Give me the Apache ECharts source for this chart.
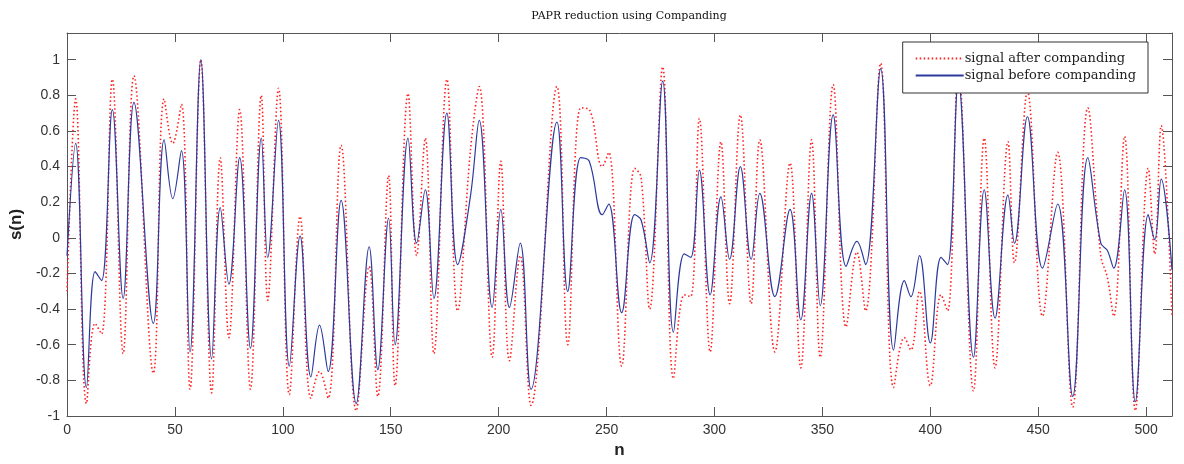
<!DOCTYPE html>
<html>
<head>
<meta charset="utf-8">
<script src="https://cdn.jsdelivr.net/npm/echarts@6/dist/echarts.min.js"></script>
<style>
  html, body { margin: 0; padding: 0; background: #fff; }
  #chart { width: 1184px; height: 464px; }
</style>
</head>
<body>
<div id="chart"></div>
<script>
// sample index n (turning points)
const sampleN = [
  0, 4, 9, 13, 16, 21, 26, 31, 40, 45, 49, 53, 57, 62, 67, 71, 75, 80, 85, 90,
  93, 98, 103, 108, 113, 117, 121, 127, 134, 140, 144, 149, 152, 158, 162, 166, 170, 176, 181, 187,
  191, 197, 201, 205, 210, 215, 227, 232, 238, 242, 248, 251, 257, 263, 266, 270, 276, 281, 286, 289,
  293, 298, 303, 307, 312, 317, 321, 328, 335, 340, 345, 349, 355, 361, 366, 370, 377, 383, 388, 391,
  395, 400, 405, 408, 413, 420, 425, 430, 436, 439, 445, 452, 459, 466, 473, 479, 482, 485, 490, 495,
  501, 504, 507, 512
];

// signal before companding
const beforeVals = [
  -0.10, 0.53, -0.84, -0.19, -0.24, 0.72, -0.34, 0.76, -0.48, 0.55, 0.22, 0.49, -0.64, 1.00, -0.68, 0.17, -0.26, 0.45, -0.62, 0.56,
  -0.11, 0.66, -0.72, 0.01, -0.78, -0.49, -0.75, 0.21, -0.93, -0.05, -0.74, 0.11, -0.60, 0.56, -0.03, 0.27, -0.34, 0.70, -0.15, 0.24,
  0.66, -0.39, 0.16, -0.39, -0.03, -0.85, 0.65, -0.30, 0.45, 0.43, 0.13, 0.19, -0.42, 0.13, 0.10, -0.14, 0.88, -0.53, -0.09, -0.11,
  0.38, -0.32, 0.23, -0.12, 0.40, -0.12, 0.25, -0.33, 0.16, -0.46, 0.25, -0.38, 0.69, -0.16, -0.02, -0.15, 0.95, -0.63, -0.24, -0.33,
  -0.10, -0.59, -0.11, -0.15, 0.88, -0.67, 0.27, -0.45, 0.24, -0.03, 0.68, -0.17, 0.19, -0.89, 0.45, -0.03, -0.07, -0.17, 0.27, -0.92,
  0.13, -0.01, 0.33, -0.18
];

// signal after companding
const afterVals = [
  -0.30, 0.78, -0.93, -0.48, -0.54, 0.89, -0.65, 0.91, -0.76, 0.78, 0.53, 0.75, -0.85, 1.00, -0.87, 0.45, -0.56, 0.72, -0.85, 0.80,
  -0.35, 0.84, -0.88, 0.12, -0.90, -0.75, -0.90, 0.52, -0.97, -0.16, -0.89, 0.35, -0.83, 0.81, -0.10, 0.56, -0.65, 0.89, -0.41, 0.50,
  0.85, -0.67, 0.43, -0.69, -0.10, -0.94, 0.85, -0.60, 0.73, 0.72, 0.40, 0.48, -0.72, 0.39, 0.34, -0.40, 0.96, -0.79, -0.32, -0.33,
  0.67, -0.64, 0.54, -0.37, 0.69, -0.37, 0.55, -0.64, 0.42, -0.73, 0.55, -0.67, 0.86, -0.50, -0.08, -0.41, 0.98, -0.84, -0.56, -0.63,
  -0.30, -0.83, -0.32, -0.41, 0.95, -0.86, 0.56, -0.73, 0.54, -0.14, 0.82, -0.44, 0.48, -0.95, 0.73, -0.10, -0.22, -0.44, 0.57, -0.97,
  0.39, -0.09, 0.63, -0.44
];

const titleText = 'PAPR reduction using Companding';
const seriesNames = ['signal after companding', 'signal before companding'];

function pairs(xs, ys) {
  return xs.map((x, i) => [x, ys[i]]);
}

const boxColor = '#555';
const tickFont = { fontFamily: 'Liberation Sans', fontSize: 14, color: '#333' };

function xAxisDef(pos, showLabel) {
  return {
    type: 'value',
    position: pos,
    min: 0,
    max: 512,
    interval: 50,
    name: pos === 'bottom' ? 'n' : '',
    nameLocation: 'middle',
    nameGap: 26,
    nameTextStyle: { fontFamily: 'Liberation Sans', fontSize: 17, fontWeight: 'bold', color: '#222' },
    axisLine: { show: true, onZero: false, lineStyle: { color: boxColor, width: 1 } },
    axisTick: { show: true, inside: true, length: 9, lineStyle: { color: boxColor } },
    axisLabel: Object.assign({ show: showLabel, margin: 7, showMaxLabel: false }, tickFont),
    splitLine: { show: false }
  };
}

function yAxisDef(pos, showLabel) {
  return {
    type: 'value',
    position: pos,
    min: -1,
    max: 1.15,
    interval: 0.2,
    name: pos === 'left' ? 's(n)' : '',
    nameLocation: 'middle',
    nameGap: 37,
    nameTextStyle: { fontFamily: 'Liberation Sans', fontSize: 17, fontWeight: 'bold', color: '#222' },
    axisLine: { show: true, onZero: false, lineStyle: { color: boxColor, width: 1 } },
    axisTick: { show: true, inside: true, length: 9, lineStyle: { color: boxColor } },
    axisLabel: Object.assign({ show: showLabel, margin: 7, showMaxLabel: false }, tickFont),
    splitLine: { show: false }
  };
}

const chart = echarts.init(document.getElementById('chart'), null, { renderer: 'canvas' });

chart.setOption({
  backgroundColor: '#fff',
  animation: false,
  title: {
    text: titleText,
    left: 624,
    textAlign: 'center',
    top: 6,
    textStyle: { fontFamily: 'DejaVu Serif', fontSize: 11, fontWeight: 'normal', color: '#111' }
  },
  legend: {
    data: seriesNames,
    orient: 'vertical',
    right: 36,
    top: 42,
    itemWidth: 48,
    itemHeight: 8,
    itemGap: 4,
    padding: [10, 12, 11, 12],
    backgroundColor: '#fff',
    borderColor: '#333',
    borderWidth: 1,
    itemStyle: { opacity: 0 },
    textStyle: { fontFamily: 'DejaVu Serif', fontSize: 13, color: '#222', padding: [0, 0, 0, -4] }
  },
  grid: { left: 66, right: 12, top: 33, bottom: 47, containLabel: false },
  xAxis: [xAxisDef('bottom', true), xAxisDef('top', false)],
  yAxis: [yAxisDef('left', true), yAxisDef('right', false)],
  series: [
    {
      name: seriesNames[0],
      type: 'line',
      data: pairs(sampleN, afterVals),
      smooth: 0.4,
      showSymbol: false,
      symbol: 'none',
      lineStyle: { color: '#ff2020', width: 1.6, type: [1.5, 2.5] },
      itemStyle: { color: '#ff2020' },
      z: 2
    },
    {
      name: seriesNames[1],
      type: 'line',
      data: pairs(sampleN, beforeVals),
      smooth: 0.4,
      showSymbol: false,
      symbol: 'none',
      lineStyle: { color: '#2c3a9e', width: 1.2 },
      itemStyle: { color: '#2c3a9e' },
      z: 3
    }
  ]
});
</script>
</body>
</html>
